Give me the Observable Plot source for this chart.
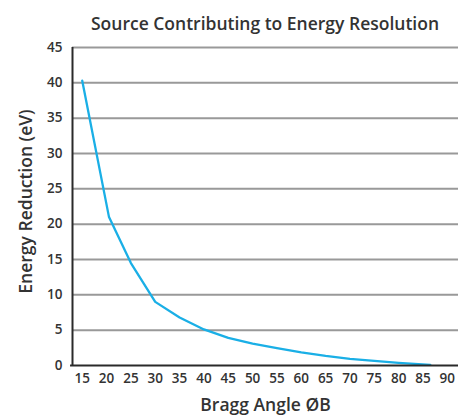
<!DOCTYPE html>
<html>
<head>
<meta charset="utf-8">
<script src="https://cdn.jsdelivr.net/npm/d3@7"></script>
<script src="https://cdn.jsdelivr.net/npm/@observablehq/plot@0.6"></script>
<style>
  html, body { margin: 0; padding: 0; background: #fff; }
  #title { box-sizing: border-box; height: 34px; padding-top: 13px; padding-left: 72px; width: 458px;
    text-align: center; font: 600 17.5px/20px "Open Sans", sans-serif; color: #333; white-space: nowrap; }
</style>
</head>
<body>
<div id="title">Source Contributing to Energy Resolution</div>
<div id="chart"></div>
<script>
const angles = [15, 20.5, 25, 30, 35, 40, 45, 50, 55, 60, 65, 70, 75, 80, 86.5];
const energy = [40.3, 21.0, 14.5, 9.0, 6.8, 5.1, 3.9, 3.1, 2.45, 1.85, 1.35, 0.95, 0.65, 0.38, 0.1];
const xTicks = [15, 20, 25, 30, 35, 40, 45, 50, 55, 60, 65, 70, 75, 80, 85, 90];
const yTicks = [0, 5, 10, 15, 20, 25, 30, 35, 40, 45];

const data = angles.map((a, i) => ({angle: a, value: energy[i]}));
const font = "Open Sans";

const chart = Plot.plot({
  width: 458,
  height: 383,
  marginLeft: 72,
  marginRight: 0,
  marginTop: 13,
  marginBottom: 52,
  style: {fontFamily: font, color: "#333", background: "#fff"},
  x: {domain: [13, 92.3]},
  y: {domain: [0, 45]},
  marks: [
    Plot.ruleY(yTicks.filter(d => d > 0), {stroke: "#999", strokeWidth: 2, strokeOpacity: 1}),
    Plot.line(data, {x: "angle", y: "value", stroke: "#1aafe6", strokeWidth: 2.3}),
    Plot.ruleY([0], {x1: 12.6, x2: 92.3, stroke: "#2a2a2a", strokeWidth: 2}),
    Plot.ruleX([13], {y1: 0, y2: 45, stroke: "#2a2a2a", strokeWidth: 2}),
    Plot.axisY({ticks: yTicks, tickSize: 0, tickPadding: 10, fontSize: 13.5, fontWeight: 600, label: null}),
    Plot.axisX({ticks: xTicks, tickSize: 0, tickPadding: 8, fontSize: 13.5, fontWeight: 600, label: null}),
    Plot.text(["Bragg Angle ØB"], {frameAnchor: "bottom", dy: 45, fontSize: 17.5, fontWeight: 600, fill: "#333"}),
    Plot.text(["Energy Reduction (eV)"], {frameAnchor: "left", textAnchor: "middle", dx: -46, dy: -5, rotate: -90, fontSize: 17.5, fontWeight: 600, fill: "#333"})
  ]
});
document.getElementById("chart").appendChild(chart);
</script>
</body>
</html>
